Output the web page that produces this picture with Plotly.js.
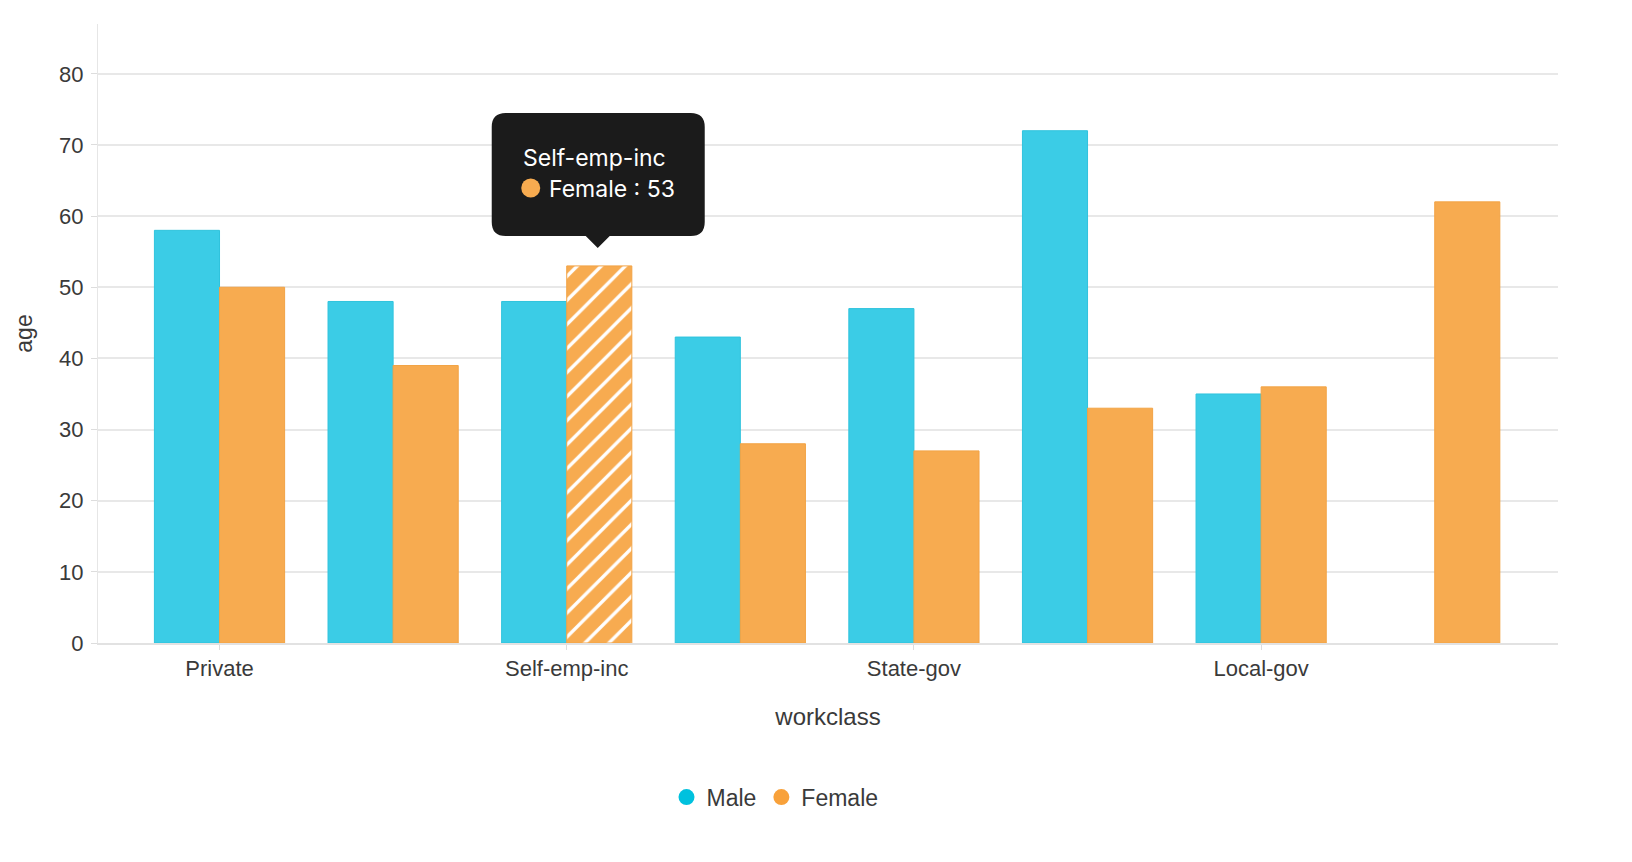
<!DOCTYPE html>
<html>
<head>
<meta charset="utf-8">
<script src="https://cdn.plot.ly/plotly-3.0.1.min.js"></script>
<style>html,body{margin:0;padding:0;background:#fff;}#chart{width:1632px;height:862px;}</style>
</head>
<body>
<div id="chart"></div>
<script>
// Data
const categories = ["Private", "Self-emp-not-inc", "Self-emp-inc", "Federal-gov", "State-gov", "Never-worked", "Local-gov", "Without-pay"];
const tickLabels = ["Private", "Self-emp-inc", "State-gov", "Local-gov"];
const maleAge = [58, 48, 48, 43, 47, 72, 35, null];
const femaleAge = [50, 39, 53, 28, 27, 33, 36, 62];
const highlightIndex = 2;

const maleColor = "#3BCCE6", femaleColor = "#F7AB50";
const maleLegend = "#00C1DE", femaleLegend = "#F8A13A";
const fontFam = "Liberation Sans, Arial, sans-serif";

const femalePattern = categories.map((c, i) => i === highlightIndex ? "/" : "");

const traces = [
  {
    type: "bar", name: "Male", x: categories, y: maleAge, showlegend: false,
    marker: {color: maleColor, line: {color: "#2FC3DD", width: 1}}
  },
  {
    type: "bar", name: "Female", x: categories, y: femaleAge, showlegend: false,
    marker: {color: femaleColor, line: {color: "#F2A345", width: 1},
      pattern: {shape: femalePattern, fillmode: "overlay", fgcolor: "#ffffff", fgopacity: 1, size: 17, solidity: 0.2}}
  },
  {type: "scatter", mode: "markers", name: "Male", x: [null], y: [null],
   marker: {color: maleLegend, size: 19, symbol: "circle"}},
  {type: "scatter", mode: "markers", name: "Female", x: [null], y: [null],
   marker: {color: femaleLegend, size: 19, symbol: "circle"}}
];

const hlCat = categories[highlightIndex];
const hlVal = femaleAge[highlightIndex];

const layout = {
  width: 1632, height: 862,
  margin: {l: 98, r: 74, t: 24, b: 219},
  paper_bgcolor: "#ffffff", plot_bgcolor: "#ffffff",
  font: {family: fontFam, color: "#3a3a3a", size: 22},
  barmode: "group", bargap: 0.25, bargroupgap: 0,
  hovermode: false,
  xaxis: {
    type: "category", categoryorder: "array", categoryarray: categories,
    range: [-0.7, 7.71],
    tickvals: tickLabels, ticktext: tickLabels,
    ticks: "outside", ticklen: 5, tickcolor: "#dddddd", tickwidth: 1,
    showline: true, linecolor: "#e2e2e2", linewidth: 2,
    showgrid: false, zeroline: false,
    tickfont: {size: 22, color: "#3a3a3a"},
    title: {text: "workclass", font: {size: 24, color: "#3a3a3a"}, standoff: 28}
  },
  yaxis: {
    range: [0, 87], dtick: 10, tick0: 0,
    ticks: "outside", ticklen: 6, tickcolor: "#dddddd", tickwidth: 1,
    ticklabelstandoff: 3,
    showline: true, linecolor: "#e6e6e6", linewidth: 1,
    gridcolor: "#e8e8e8", gridwidth: 2, zeroline: false,
    tickfont: {size: 22, color: "#3a3a3a"},
    title: {text: "age", font: {size: 23, color: "#3a3a3a"}, standoff: 20}
  },
  legend: {
    orientation: "h", x: 0.4637, xanchor: "center", y: -0.249, yanchor: "middle",
    font: {size: 23, color: "#3a3a3a"}, itemwidth: 30, traceorder: "normal"
  },
  shapes: [
    {
      type: "path", xref: "x", yref: "y",
      xsizemode: "pixel", ysizemode: "pixel", xanchor: hlCat, yanchor: hlVal,
      path: "M -61,153 L 124,153 Q 138,153 138,139 L 138,44 Q 138,30 124,30 L 43,30 L 31,18 L 19,30 L -61,30 Q -75,30 -75,44 L -75,139 Q -75,153 -61,153 Z",
      fillcolor: "#1b1b1b", line: {width: 0}, layer: "above"
    },
    {
      type: "circle", xref: "x", yref: "y",
      xsizemode: "pixel", ysizemode: "pixel", xanchor: hlCat, yanchor: hlVal,
      x0: -45.5, x1: -26.5, y0: 68.5, y1: 87.5,
      fillcolor: femaleColor, line: {width: 0}, layer: "above"
    }
  ],
  annotations: [
    {
      x: hlCat, y: hlVal, xref: "x", yref: "y", showarrow: false,
      xanchor: "left", yanchor: "middle", xshift: -46, yshift: 108,
      text: hlCat, font: {family: "Inter, sans-serif", size: 23, color: "#ffffff"}
    },
    {
      x: hlCat, y: hlVal, xref: "x", yref: "y", showarrow: false,
      xanchor: "left", yanchor: "middle", xshift: -20, yshift: 77,
      text: "Female : " + hlVal, font: {family: "Inter, sans-serif", size: 23, color: "#ffffff"}
    }
  ]
};

Plotly.newPlot("chart", traces, layout, {displayModeBar: false, staticPlot: true});
</script>
</body>
</html>
